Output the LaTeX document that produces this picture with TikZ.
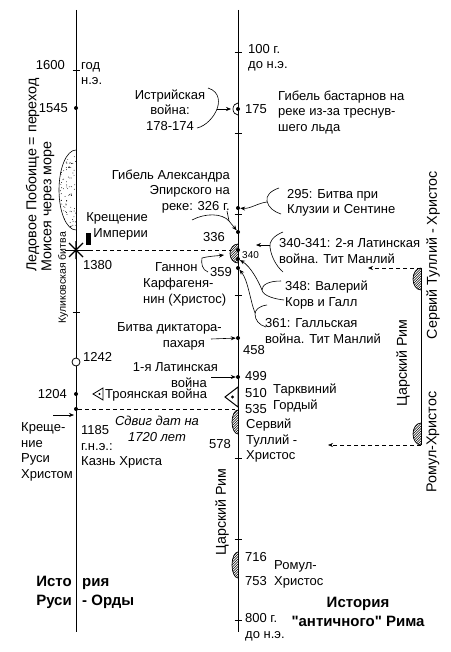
\documentclass[tikz,border=0pt]{standalone}
\usepackage{fontspec}
\setmainfont{Liberation Sans}
\usetikzlibrary{arrows.meta}
\newcommand\hatchhalf[4]{%
  \begin{scope}
    \clip (#1-#3-2,#2-#4-2) rectangle (#1,#2+#4+2);
    \begin{scope}
      \clip (#1,#2) ellipse [x radius=#3, y radius=#4];
      \foreach \i in {-44,-41.5,...,2} \draw[line width=0.5pt] (#1+\i,#2+#4) -- ++(2*#4,-2*#4);
    \end{scope}
    \draw[line width=0.7pt] (#1,#2) ellipse [x radius=#3, y radius=#4];
  \end{scope}}
\begin{document}
\begin{tikzpicture}[x=1pt,y=-1pt,
  txt/.style={inner sep=0pt, font=\fontsize{13}{15.5}\selectfont},
  rot/.style={inner sep=0pt, rotate=90, font=\fontsize{14.3}{15}\selectfont},
  bigb/.style={inner sep=0pt, font=\fontsize{15}{19}\selectfont\bfseries},
  axis/.style={line width=0.8pt},
  tk/.style={line width=0.8pt},
  arr/.style={-{Stealth[length=5pt,width=4pt]}, line width=0.6pt},
  brace/.style={line width=0.6pt},
  dsh/.style={dash pattern=on 4pt off 3pt, line width=0.6pt},
  dot/.style={circle, fill=black, inner sep=0pt, minimum size=4pt}
]
\useasboundingbox (0,0) rectangle (450,652);
\fill[white] (0,0) rectangle (450,652);

% axes
\coordinate (L0) at (76,10); \coordinate (L1) at (76,632);
\coordinate (R0) at (238,10); \coordinate (R1) at (238,632);
\coordinate (F0) at (421,268); \coordinate (F1) at (421,445);
\draw[axis] (L0) -- (L1);
\draw[axis] (R0) -- (R1);
\draw[axis] (F0) -- (F1);

% ticks
\foreach \y in {70,312} \draw[tk] (72.5,\y) -- (79.5,\y);
\foreach \y in {52,133,214,295,458,539,620} \draw[tk] (234.5,\y) -- (241.5,\y);

% stippled half ellipse
\begin{scope}
  \clip (40,140) rectangle (76,240);
  \draw[line width=0.6pt] (76,190) ellipse [x radius=17, y radius=40];
  \clip (76,190) ellipse [x radius=17, y radius=40];
  \pgfmathsetseed{7}
  \foreach \k in {1,...,110} \fill ({59+17*rnd},{150+80*rnd}) circle (0.45);
\end{scope}

% hatched half ellipses
\hatchhalf{238}{253.5}{8}{9.5}
\hatchhalf{238}{422}{6}{12}
\hatchhalf{238}{565}{6}{13}
\hatchhalf{421}{279}{8}{11}
\hatchhalf{421}{434}{8}{11}

% dashed lines
\node[dot] (d1185) at (76,409) {};
\draw[dsh] (89,250) -- (230,250);
\draw[dsh] (d1185) -- (235,409);
\draw[dsh,arr] (F0) -- (368,268);
\draw[dsh,arr] (F1) -- (328,445);

% left axis marks
\node[dot] (d1545) at (76,108) {};
\node[dot] (d1204) at (76,394) {};
\node[circle, draw, fill=white, minimum size=8pt, inner sep=0pt, line width=0.8pt] (c1242) at (76,362) {};
\draw[line width=1.4pt] (69,243) -- (83,257) (69,257) -- (83,243) (76,241) -- (76,259);
\draw[line width=0.9pt] (65,250) -- (89,250);
\fill (86,233) rectangle (90.5,245);
\draw[line width=0.8pt, fill=white] (93,394) -- (103,388) -- (103,400) -- cycle;
\fill (99.5,394) circle (1.1);
\coordinate (kr) at (53,415);
\coordinate (krT) at (74,415);
\draw[arr] (kr) -- (krT);

% right axis marks
\node[dot] (d175) at (238,109) {};
\draw[line width=0.7pt] (238,103) arc [start angle=-90, end angle=-270, x radius=5, y radius=6];
\node[dot] (d295) at (238,208) {};
\node[dot] (d336) at (238,232) {};
\node[dot] (da) at (238,250) {};
\node[dot] (db) at (238,259) {};
\node[dot] (dc) at (238,268) {};
\node[dot] (d458) at (238,338) {};
\node[dot] (d499) at (238,377) {};
\draw[line width=1pt, fill=white] (225,397) -- (238,387) -- (238,407) -- cycle;
\fill (232.5,397) circle (1.6);

% braces and arrows
\draw[brace] (208,88) .. controls (221,92) and (219,104) .. (217,109) .. controls (214,117) and (206,126) .. (197,128);
\coordinate (istT) at (217,109); \coordinate (a175) at (231,109);
\draw[arr] (istT) -- (a175);

\coordinate (alexA) at (192,220); \coordinate (alexB) at (229,221);
\draw[brace] (alexA) .. controls (205,213) and (222,213) .. (alexB);
\draw[brace] (227,211) -- (alexB);
\draw[arr] (alexB) -- (d336);

\draw[brace] (279,188) .. controls (270,191) and (266,196) .. (267,201) .. controls (268,207) and (274,212) .. (281,214);
\coordinate (b295) at (267,202);
\draw[arr] (b295) .. controls (258,203) and (250,209) .. (d295);

\draw[brace] (283,232) .. controls (273,236) and (269,242) .. (270,247) .. controls (271,256) and (276,266) .. (283,272);
\coordinate (b340) at (270,245); \coordinate (a340) at (256,245);
\draw[arr] (b340) -- (a340);

\draw[brace] (281,281) .. controls (268,281) and (262,285) .. (262,290) .. controls (263,296) and (275,299) .. (284,300);
\coordinate (b348) at (262,290);
\draw[arr] (b348) .. controls (258,280) and (250,266) .. (db);

\draw[brace] (267,305) .. controls (259,306) and (255,310) .. (255,314) .. controls (255,320) and (259,325) .. (266,327);
\coordinate (b361) at (255,313);
\draw[arr] (b361) .. controls (250,300) and (248,280) .. (dc);

\coordinate (bgan) at (202,258); \coordinate (agan) at (224,255);
\draw[brace] (208,272) .. controls (202,270) and (201,263) .. (bgan);
\draw[arr] (bgan) .. controls (210,256) and (216,256) .. (agan);

\coordinate (bdict) at (211,339);
\draw[arr] (bdict) -- (d458);
\coordinate (blat) at (211,377);
\draw[arr] (blat) -- (d499);

% left texts
\node[txt, anchor=base east] (n1600) at (65,69.5) {1600};
\node[txt, anchor=base west, align=left] (nGod) at (81,85) {год\\н.э.};
\node[txt, anchor=base east] (n1545) at (68,112.5) {1545};
\node[txt, anchor=base east, align=right] (nKrI) at (148,237) {Крещение\\Империи};
\node[txt, anchor=base west] (n1380) at (83,269.5) {1380};
\node[txt, anchor=base west] (n1242) at (83,361.5) {1242};
\node[txt, anchor=base east] (n1204) at (67,398.5) {1204};
\node[txt, anchor=base west] (nTroy) at (105,398.5) {Троянская война};
\node[txt, anchor=base west, align=left] (nKrR) at (21,478) {Креще-\\ние\\Руси\\Христом};
\node[txt, anchor=base west, align=left] (n1185) at (81,465.5) {1185\\г.н.э.:\\Казнь Христа};
\node[txt, anchor=base, align=center, font=\fontsize{13}{15.5}\selectfont\itshape] (nShift) at (157,441) {Сдвиг дат на\\1720 лет};
\node[bigb, anchor=base east, align=right] (nIsto) at (72,605) {Исто\\Руси};
\node[bigb, anchor=base west, align=left] (nRia) at (82,605) {рия\\- Орды};
\node[rot, align=left] (nLed) at (40,175) {Ледовое Побоище = переход\\Моисея через море};
\node[inner sep=0pt, rotate=90, font=\fontsize{10.5}{12}\selectfont] (nKul) at (63,278) {Куликовская битва};

% right texts
\node[txt, anchor=base west, align=left] (n100) at (248,69) {100 г.\\до н.э.};
\node[txt, anchor=base west] (n175) at (245,113.5) {175};
\node[txt, anchor=base, align=center] (nIstr) at (170,130.5) {Истрийская\\война:\\178-174};
\node[txt, anchor=base west, align=left] (nBast) at (278,131.5) {Гибель бастарнов на\\реке из-за треснув-\\шего льда};
\node[txt, anchor=base east, align=right] (nAlex) at (230,210.5) {Гибель Александра\\Эпирского на\\реке: 326 г.};
\node[txt, anchor=base west, align=left] (n295) at (287,214) {295: Битва при\\Клузии и Сентине};
\node[txt, anchor=base east] (n336) at (225,241.5) {336};
\node[inner sep=0pt, font=\fontsize{10}{12}\selectfont, anchor=base west] (n340) at (242,258.5) {340};
\node[txt, anchor=base west, align=left] (n340t) at (279,263) {340-341: 2-я Латинская\\война. Тит Манлий};
\node[txt, anchor=base west] (nGan) at (155,271.5) {Ганнон};
\node[txt, anchor=base west] (n359) at (210,276.5) {359};
\node[txt, anchor=base west, align=left] (nKarf) at (143,303) {Карфагеня-\\нин (Христос)};
\node[txt, anchor=base west, align=left] (n348) at (285,306) {348: Валерий\\Корв и Галл};
\node[txt, anchor=base west, align=left] (n361) at (265,343) {361: Галльская\\война. Тит Манлий};
\node[txt, anchor=base east, align=right] (nDict) at (222,347) {Битва диктатора-\\пахаря\hspace*{17pt}};
\node[txt, anchor=base west] (n458) at (243,354.5) {458};
\node[txt, anchor=base east, align=right] (nLat1) at (218,387) {1-я Латинская\\война\hspace*{11pt}};
\node[txt, anchor=base west] (n499) at (245,380.5) {499};
\node[txt, anchor=base west] (n510) at (245,397) {510};
\node[txt, anchor=base west, align=left] (nTarq) at (273,409) {Тарквиний\\Гордый};
\node[txt, anchor=base west] (n535) at (245,413.5) {535};
\node[txt, anchor=base west, align=left] (nServ) at (246,459.5) {Сервий\\Туллий -\\Христос};
\node[txt, anchor=base east] (n578) at (231,448.5) {578};
\node[rot] (nCar1) at (222,512) {Царский Рим};
\node[txt, anchor=base west] (n716) at (245,561.5) {716};
\node[txt, anchor=base west] (n753) at (245,585.5) {753};
\node[txt, anchor=base west, align=left] (nRom) at (274,585) {Ромул-\\Христос};
\node[txt, anchor=base west, align=left] (n800) at (245,638) {800 г.\\до н.э.};
\node[bigb, anchor=base, align=center] (nRim) at (358,626) {\addfontfeatures{Ligatures=TeXOff}История\\\addfontfeatures{Ligatures=TeXOff}"античного" Рима};
\node[rot] (nCar2) at (403,363) {Царский Рим};
\node[rot] (nServ2) at (433,255) {Сервий Туллий - Христос};
\node[rot] (nRom2) at (433,442) {Ромул-Христос};
\end{tikzpicture}
\end{document}
